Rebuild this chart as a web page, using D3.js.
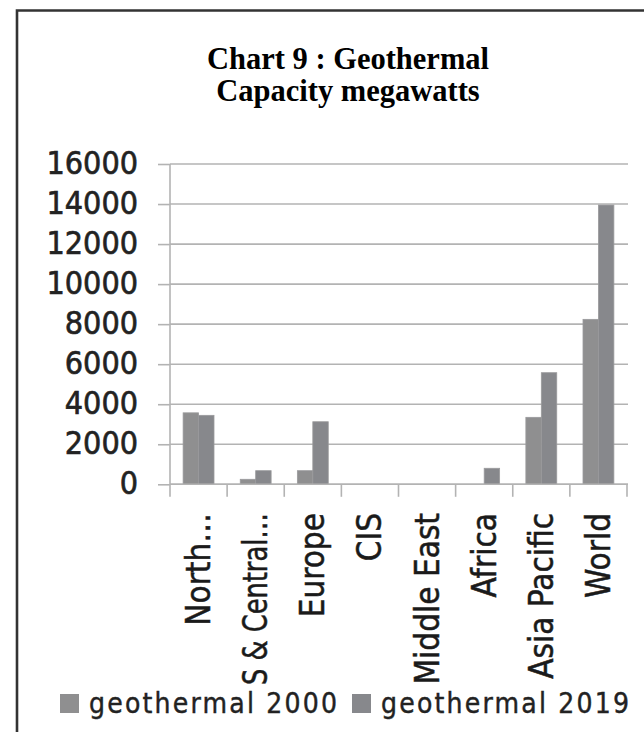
<!DOCTYPE html>
<html>
<head>
<meta charset="utf-8">
<script src="https://cdn.jsdelivr.net/npm/d3@7"></script>
<style>
  html, body { margin: 0; padding: 0; background: #fff; }
  svg { display: block; }
</style>
</head>
<body>
<svg id="chart" width="644" height="732"></svg>
<script>
// Geothermal capacity (MW) by region
const regions = ["North…", "S & Central…", "Europe", "CIS", "Middle East", "Africa", "Asia Pacific", "World"];
const series = ["geothermal 2000", "geothermal 2019"];
const cap2000 = [3570, 250, 680, 0, 0, 0, 3345, 8240];
const cap2019 = [3445, 680, 3125, 0, 0, 800, 5575, 13950];
const yTicks = [0, 2000, 4000, 6000, 8000, 10000, 12000, 14000, 16000];
const titleLines = ["Chart 9 : Geothermal", "Capacity megawatts"];

const colors = ["#8f8f90", "#87888c"];
const values = [cap2000, cap2019];
const sansFont = "'DejaVu Sans Condensed', 'DejaVu Sans', sans-serif";

const svg = d3.select("#chart");

// outer frame (left and top edges visible)
svg.append("path")
  .attr("d", "M17,736 L17,10.5 L650,10.5")
  .attr("fill", "none")
  .attr("stroke", "#333")
  .attr("stroke-width", 2.6);

// title, one text per line
svg.append("g")
  .attr("text-anchor", "middle")
  .attr("font-family", "'Liberation Serif', 'Times New Roman', serif")
  .attr("font-weight", "bold")
  .attr("font-size", 30.5)
  .attr("fill", "#000")
  .selectAll("text")
  .data(titleLines)
  .join("text")
  .attr("x", 348)
  .attr("y", (d, i) => 69 + i * 32)
  .text(d => d);

const plot = { left: 170, right: 627, top: 164, bottom: 484.3 };

const x = d3.scaleBand()
  .domain(regions)
  .range([plot.left, plot.right])
  .paddingInner(0)
  .paddingOuter(0);

const x1 = d3.scaleBand()
  .domain(series)
  .range([0, x.bandwidth()])
  .paddingInner(0)
  .paddingOuter(0.85);

const y = d3.scaleLinear()
  .domain([0, 16000])
  .range([plot.bottom, plot.top]);

const gridColor = "#b3b3b3";

// value axis: tick stubs and labels
const yAxis = svg.append("g")
  .attr("transform", `translate(${plot.left},0)`)
  .call(d3.axisLeft(y).tickValues(yTicks).tickSize(12).tickPadding(20).tickFormat(d3.format("d")));
yAxis.select(".domain").remove();
yAxis.selectAll(".tick line").attr("stroke", gridColor).attr("stroke-width", 1.6);
yAxis.selectAll(".tick text")
  .attr("font-family", sansFont)
  .attr("font-size", 32)
  .attr("fill", "#222")
  .attr("stroke", "#222")
  .attr("stroke-width", 0.6)
  .attr("dy", "0.3em");

// horizontal gridlines
svg.append("g")
  .selectAll("line")
  .data(yTicks)
  .join("line")
  .attr("x1", plot.left)
  .attr("x2", plot.right + 1)
  .attr("y1", d => y(d))
  .attr("y2", d => y(d))
  .attr("stroke", gridColor)
  .attr("stroke-width", 1.6);

// vertical axis line
svg.append("line")
  .attr("x1", plot.left).attr("x2", plot.left)
  .attr("y1", y(16000)).attr("y2", plot.bottom + 12.5)
  .attr("stroke", gridColor).attr("stroke-width", 1.6);

// category boundary ticks below the baseline
const bounds = regions.map(r => x(r) + x.bandwidth());
svg.append("g")
  .selectAll("line")
  .data(bounds)
  .join("line")
  .attr("x1", d => d).attr("x2", d => d)
  .attr("y1", plot.bottom).attr("y2", plot.bottom + 12.5)
  .attr("stroke", gridColor).attr("stroke-width", 1.6);

// bars
const barGroups = svg.append("g")
  .selectAll("g")
  .data(series)
  .join("g")
  .attr("fill", (d, i) => colors[i]);

barGroups.selectAll("rect")
  .data((s, si) => regions.map((r, ri) => ({ region: r, series: s, value: values[si][ri] })))
  .join("rect")
  .attr("x", d => x(d.region) + x1(d.series))
  .attr("width", x1.bandwidth())
  .attr("y", d => y(d.value))
  .attr("height", d => y(0) - y(d.value))
  .attr("stroke", d => d.value > 0 ? "#9a9a9c" : "none")
  .attr("stroke-width", 0.8);

// baseline drawn over the bars
svg.append("line")
  .attr("x1", plot.left).attr("x2", plot.right + 1)
  .attr("y1", plot.bottom).attr("y2", plot.bottom)
  .attr("stroke", gridColor).attr("stroke-width", 1.6);

// rotated category labels, fitted to the space above the legend
const maxLabelLen = 172;
const labels = svg.append("g")
  .selectAll("text")
  .data(regions)
  .join("text")
  .attr("transform", d => `translate(${x(d) + x.bandwidth() / 2 + 11.5},513) rotate(-90)`)
  .attr("text-anchor", "end")
  .attr("font-family", sansFont)
  .attr("font-size", 33)
  .attr("fill", "#1a1a1a")
  .attr("stroke", "#1a1a1a")
  .attr("stroke-width", 0.5)
  .text(d => d);
labels.each(function () {
  const len = this.getComputedTextLength();
  if (len > maxLabelLen) {
    d3.select(this).attr("textLength", maxLabelLen).attr("lengthAdjust", "spacingAndGlyphs");
  }
});

// legend
const legendX = [60, 352];
const legend = svg.append("g")
  .selectAll("g")
  .data(series)
  .join("g")
  .attr("transform", (d, i) => `translate(${legendX[i]},0)`);
legend.append("rect")
  .attr("x", 0).attr("y", 694)
  .attr("width", 19).attr("height", 19)
  .attr("fill", (d, i) => colors[i]);
legend.append("text")
  .attr("x", 29).attr("y", 713)
  .attr("font-family", sansFont)
  .attr("font-size", 28)
  .attr("letter-spacing", 2.2)
  .attr("fill", "#222")
  .attr("stroke", "#222")
  .attr("stroke-width", 0.4)
  .text(d => d);
</script>
</body>
</html>
